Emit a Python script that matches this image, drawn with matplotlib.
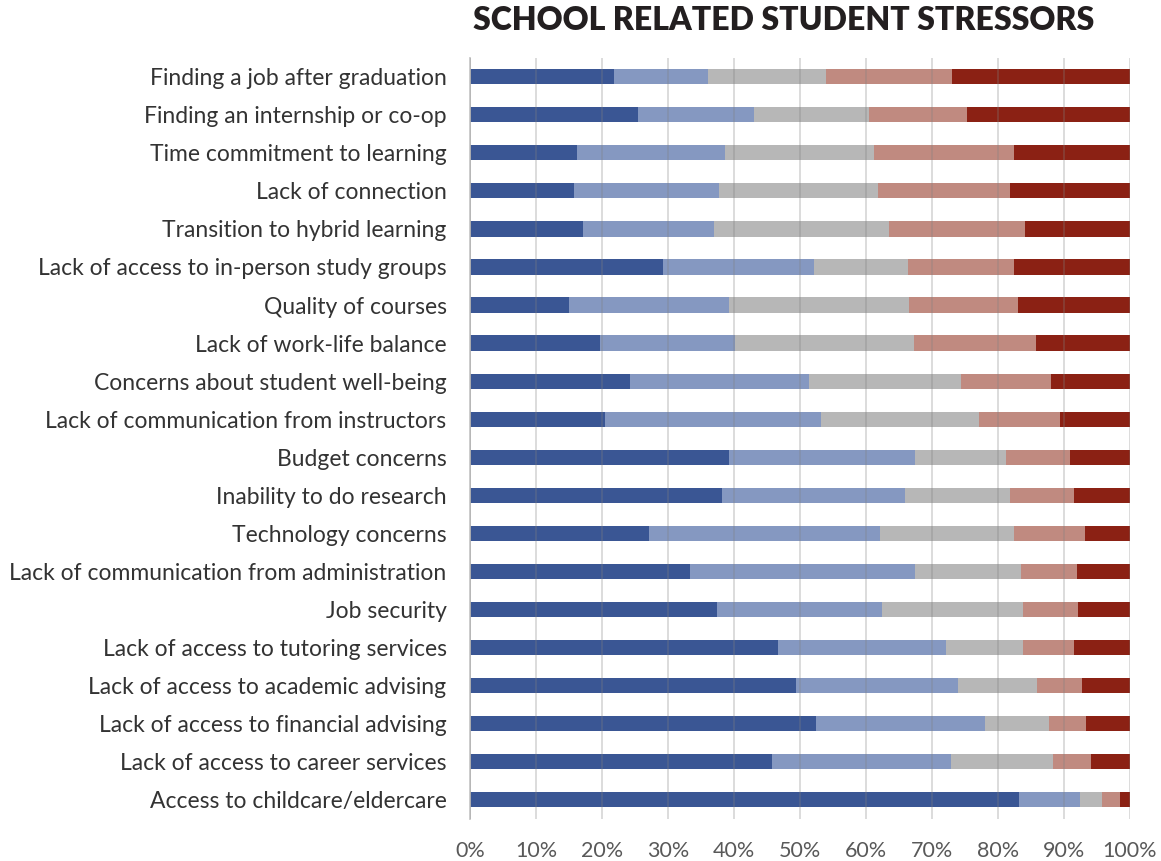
import matplotlib.pyplot as plt
import numpy as np

plt.rcParams['font.family'] = ['Lato', 'DejaVu Sans']

categories = [
    'Finding a job after graduation',
    'Finding an internship or co-op',
    'Time commitment to learning',
    'Lack of connection',
    'Transition to hybrid learning',
    'Lack of access to in-person study groups',
    'Quality of courses',
    'Lack of work-life balance',
    'Concerns about student well-being',
    'Lack of communication from instructors',
    'Budget concerns',
    'Inability to do research',
    'Technology concerns',
    'Lack of communication from administration',
    'Job security',
    'Lack of access to tutoring services',
    'Lack of access to academic advising',
    'Lack of access to financial advising',
    'Lack of access to career services',
    'Access to childcare/eldercare',
]

# five response levels, percent of respondents
level1 = [21.8, 25.4, 16.2, 15.8, 17.1, 29.2, 15.0, 19.7, 24.2, 20.5,
          39.3, 38.2, 27.1, 33.4, 37.5, 46.7, 49.4, 52.4, 45.7, 83.2]
level2 = [14.3, 17.6, 22.4, 21.9, 19.9, 23.0, 24.2, 20.4, 27.1, 32.7,
          28.1, 27.7, 35.1, 34.0, 25.0, 25.4, 24.6, 25.7, 27.2, 9.2]
level3 = [17.8, 17.5, 22.6, 24.1, 26.5, 14.2, 27.3, 27.2, 23.2, 24.0,
          13.8, 16.0, 20.3, 16.1, 21.3, 11.8, 12.0, 9.6, 15.5, 3.4]
level4 = [19.1, 14.8, 21.2, 20.1, 20.7, 16.1, 16.5, 18.5, 13.5, 12.2,
          9.8, 9.6, 10.7, 8.5, 8.3, 7.7, 6.8, 5.7, 5.8, 2.8]
level5 = [27.0, 24.7, 17.6, 18.1, 15.8, 17.5, 17.0, 14.2, 12.0, 10.6,
          9.0, 8.5, 6.8, 8.0, 7.9, 8.4, 7.2, 6.6, 5.8, 1.4]

colors = ['#3A5694', '#8598C1', '#B7B7B7', '#C08A80', '#8B2114']

fig = plt.figure(figsize=(11.61, 8.61), dpi=100)
ax = fig.add_axes([0.405, 0.049, 0.568, 0.884])

y = np.arange(len(categories))
left = np.zeros(len(categories))
for vals, c in zip([level1, level2, level3, level4, level5], colors):
    ax.barh(y, vals, left=left, height=0.4, color=c, zorder=1)
    left += np.array(vals)

ax.set_xlim(0, 100)
ax.set_ylim(len(categories) - 0.5, -0.5)
ax.set_xticks(np.arange(0, 101, 10))
ax.set_xticklabels([f'{v}%' for v in range(0, 101, 10)], fontsize=15.5, color='#595959')
ax.set_yticks(y)
ax.set_yticklabels(categories, fontsize=16.5, color='#333333')
ax.tick_params(length=0)
ax.tick_params(axis='y', pad=17)
ax.tick_params(axis='x', pad=16)

ax.grid(axis='x', color='#808080', alpha=0.3, linewidth=1.3, zorder=2)
ax.set_axisbelow(False)
for s in ['top', 'right', 'bottom']:
    ax.spines[s].set_visible(False)
ax.spines['left'].set_color('#C8C8C8')
ax.spines['left'].set_linewidth(1.3)

fig.text(0.675, 0.976, 'SCHOOL RELATED STUDENT STRESSORS', ha='center', va='center',
         fontsize=23, fontweight='heavy', color='#231F20')

fig.savefig('out.png', dpi=100)
